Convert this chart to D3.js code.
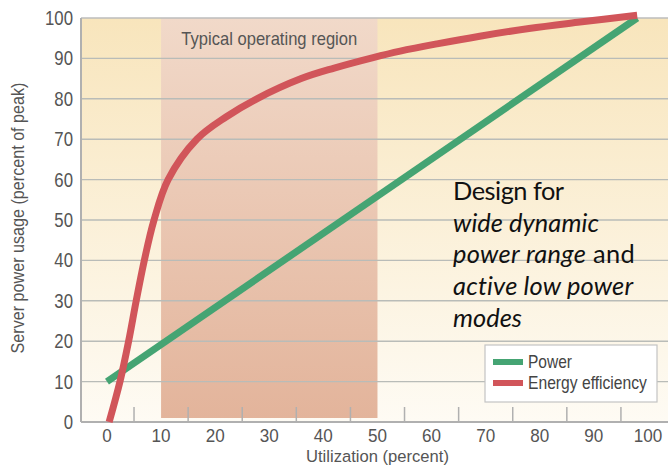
<!DOCTYPE html>
<html>
<head>
<meta charset="utf-8">
<script src="https://cdn.jsdelivr.net/npm/d3@7"></script>
<style>
  html, body { margin: 0; padding: 0; background: #ffffff; }
  svg { display: block; }
  .lab { font-family: "Liberation Sans", Arial, sans-serif; }
</style>
</head>
<body>
<svg id="chart" width="668" height="467"></svg>
<script>
// Utilization (percent) vs. server power usage (percent of peak)
const xTicks = [0, 10, 20, 30, 40, 50, 60, 70, 80, 90, 100];
const yTicks = [0, 10, 20, 30, 40, 50, 60, 70, 80, 90, 100];
const minorXTicks = [5, 15, 25, 35, 45, 55, 65, 75, 85, 95];
const typicalRegion = [10, 50];

const powerUtil = [0, 98];
const powerValue = [10, 100];

const efficiencyUtil  = [0.4, 2.4, 4.0, 5.4, 6.9, 8.7, 11.3, 16.6, 22, 27.7, 35.9, 42, 49.2, 54.2, 61, 68.9, 78, 87.4, 98];
const efficiencyValue = [0,   10,  20,  30,  40,  50,  60,   70,   75.5, 80, 85,  87.6, 90.2, 91.8, 93.6, 95.5, 97.4, 99.0, 100.7];

const legendLabels = ["Power", "Energy efficiency"];
const colors = { power: "#45a473", efficiency: "#d1555a" };

const svg = d3.select("#chart");
const plotLeft = 81, plotRight = 668, plotTop = 18, plotBottom = 422;

const x = d3.scaleLinear().domain([-4.8, 103.7]).range([plotLeft, plotRight]);
const y = d3.scaleLinear().domain([0, 100]).range([plotBottom, plotTop]);

// condensed label: text squeezed horizontally by a fixed factor or to a target width
function condensed(parent, str, px, py, size, anchor, opts = {}) {
  const g = parent.append("g");
  const t = g.append("text").attr("class", "lab")
    .attr("font-size", size).attr("fill", opts.fill || "#555")
    .attr("text-anchor", anchor)
    .attr("dy", opts.dy || null)
    .text(str);
  let s = opts.scale || 0.86;
  if (opts.width) s = opts.width / t.node().getComputedTextLength();
  g.attr("transform", `translate(${px},${py})${opts.rotate ? ` rotate(${opts.rotate})` : ""} scale(${s},1)`);
  return t;
}

const defs = svg.append("defs");
const bgGrad = defs.append("linearGradient").attr("id", "bgGrad")
  .attr("x1", 0).attr("y1", 0).attr("x2", 0).attr("y2", 1);
bgGrad.append("stop").attr("offset", "0%").attr("stop-color", "#f8e5bc");
bgGrad.append("stop").attr("offset", "100%").attr("stop-color", "#fefbf4");

const regGrad = defs.append("linearGradient").attr("id", "regGrad")
  .attr("x1", 0).attr("y1", 0).attr("x2", 0).attr("y2", 1);
regGrad.append("stop").attr("offset", "0%").attr("stop-color", "#f1d9c9");
regGrad.append("stop").attr("offset", "100%").attr("stop-color", "#e3b49b");

// plot background
svg.append("rect")
  .attr("x", plotLeft).attr("y", plotTop)
  .attr("width", plotRight - plotLeft).attr("height", plotBottom - plotTop)
  .attr("fill", "url(#bgGrad)");

// typical operating region band
svg.append("rect")
  .attr("x", x(typicalRegion[0])).attr("y", plotTop)
  .attr("width", x(typicalRegion[1]) - x(typicalRegion[0]))
  .attr("height", plotBottom - 4 - plotTop)
  .attr("fill", "url(#regGrad)");

// horizontal gridlines
svg.append("g").selectAll("line")
  .data(yTicks.filter(d => d > 0 && d < 100))
  .join("line")
  .attr("x1", plotLeft).attr("x2", plotRight)
  .attr("y1", d => y(d)).attr("y2", d => y(d))
  .attr("stroke", "#b9bcb8").attr("stroke-width", 1.4);

// frame: top, left and bottom lines
svg.append("line").attr("x1", plotLeft).attr("x2", plotRight).attr("y1", plotTop).attr("y2", plotTop)
  .attr("stroke", "#bdbdbd").attr("stroke-width", 1.5);
svg.append("line").attr("x1", plotLeft).attr("x2", plotLeft).attr("y1", plotTop).attr("y2", plotBottom)
  .attr("stroke", "#b0b0b0").attr("stroke-width", 2);
svg.append("line").attr("x1", plotLeft).attr("x2", plotRight).attr("y1", plotBottom).attr("y2", plotBottom)
  .attr("stroke", "#b0b0b0").attr("stroke-width", 2);

// minor tick marks rising from the x axis
svg.append("g").selectAll("line")
  .data(minorXTicks)
  .join("line")
  .attr("x1", d => x(d)).attr("x2", d => x(d))
  .attr("y1", plotBottom - 15).attr("y2", plotBottom)
  .attr("stroke", "#b0b0b0").attr("stroke-width", 1.5);

// tick labels
const yLab = svg.append("g");
yTicks.forEach(d => condensed(yLab, d, 73, y(d), 19.5, "end", { dy: "0.36em", scale: 0.86 }));
const xLab = svg.append("g");
xTicks.forEach(d => condensed(xLab, d, x(d), 441.5, 18, "middle", { scale: 0.95 }));

// axis titles
condensed(svg, "Utilization (percent)", x(50), 461.5, 17, "middle", { width: 143 });
condensed(svg, "Server power usage (percent of peak)", 24, 218, 17.5, "middle", { width: 271, rotate: -90 });

// region label
condensed(svg, "Typical operating region", (x(typicalRegion[0]) + x(typicalRegion[1])) / 2, 45, 17.5, "middle", { width: 176 });

// series lines
const line = d3.line().x(d => x(d[0])).y(d => y(d[1]));

svg.append("path")
  .datum(powerUtil.map((u, i) => [u, powerValue[i]]))
  .attr("d", line)
  .attr("fill", "none")
  .attr("stroke", colors.power).attr("stroke-width", 7);

svg.append("path")
  .datum(efficiencyUtil.map((u, i) => [u, efficiencyValue[i]]))
  .attr("d", line.curve(d3.curveCatmullRom.alpha(0.5)))
  .attr("fill", "none")
  .attr("stroke", colors.efficiency).attr("stroke-width", 7);

// legend
const lg = svg.append("g").attr("transform", "translate(485,345)");
lg.append("rect").attr("width", 172).attr("height", 57)
  .attr("fill", "#ffffff").attr("stroke", "#c4c4c4").attr("stroke-width", 1.2);
const legendColors = [colors.power, colors.efficiency];
const legendWidths = [44, 119];
legendLabels.forEach((label, i) => {
  lg.append("rect").attr("x", 8).attr("y", 14 + i * 21).attr("width", 30).attr("height", 6)
    .attr("fill", legendColors[i]);
  condensed(lg, label, 43, 17 + i * 21, 17.5, "start", { dy: "0.36em", width: legendWidths[i], fill: "#444" });
});

// annotation: one font size chosen so the block fills its set widths
const noteLines = [
  [["Design for", false]],
  [["wide dynamic", true]],
  [["power range", true], [" and", false]],
  [["active low power", true]],
  [["modes", true]]
];
const noteWidths = [107, 146, 182, 180, 69];
const noteTexts = noteLines.map((parts, i) => {
  const t = svg.append("text")
    .attr("x", 453).attr("y", 200 + i * 31.7)
    .attr("font-family", "Lato, 'Open Sans', sans-serif")
    .attr("font-size", 22).attr("fill", "#111");
  parts.forEach(([txt, it]) => {
    t.append("tspan").attr("font-style", it ? "italic" : "normal").text(txt);
  });
  return t;
});
const measured = noteTexts.map(t => t.node().getComputedTextLength());
const noteSize = 22 * d3.sum(noteWidths) / d3.sum(measured);
noteTexts.forEach((t, i) => {
  t.attr("font-size", noteSize);
  const w = t.node().getComputedTextLength();
  const n = noteLines[i].reduce((a, p) => a + p[0].length, 0);
  t.attr("letter-spacing", Math.max(-0.5, Math.min(0.5, (noteWidths[i] - w) / n)));
});
</script>
</body>
</html>
